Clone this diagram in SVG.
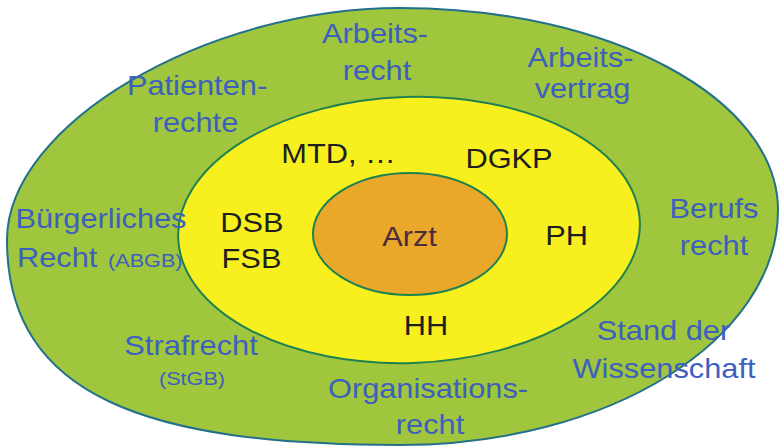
<svg xmlns="http://www.w3.org/2000/svg" width="779" height="447" viewBox="0 0 779 447">
<style>
.ring{stroke-width:2}
.outer{fill:#9fc63c;stroke:#22708a}
.mid{fill:#f7f01e;stroke:#1f8050}
.core{fill:#e9a82a;stroke:#1f8050}
text{font-family:"Liberation Sans",Arial,sans-serif;font-size:27px;text-anchor:middle}
.b{fill:#3d5fbf}
.k{fill:#1e1e1e}
.s{font-size:19px}
.st{text-anchor:start}
.arzt{fill:#4a2c3c}
</style>
<rect width="779" height="447" fill="#ffffff"/>
<g id="outer">
<path class="ring outer" d="M 7 240 C 7 125 205 8 400 8 C 609 8 778 98 778 210 C 778 340 609 445 400 445 C 150 445 7 398 7 240 Z"/>
</g>
<g id="middle">
<ellipse class="ring mid" cx="409" cy="230" rx="231" ry="133" transform="rotate(-2 409 230)"/>
</g>
<g id="core">
<ellipse class="ring core" cx="410" cy="234" rx="97" ry="61"/>
<text class="arzt" transform="matrix(1.14 0 0 1 409.5 246)">Arzt</text>
</g>
<g id="labels-middle">
<text class="k" transform="matrix(1.14 0 0 1 338.5 163)">MTD, …</text>
<text class="k" transform="matrix(1.14 0 0 1 509 168)">DGKP</text>
<text class="k" transform="matrix(1.14 0 0 1 252 232)">DSB</text>
<text class="k" transform="matrix(1.14 0 0 1 251.5 268)">FSB</text>
<text class="k" transform="matrix(1.14 0 0 1 566.5 245)">PH</text>
<text class="k" transform="matrix(1.14 0 0 1 426 335)">HH</text>
</g>
<g id="labels-outer">
<text class="b" transform="matrix(1.14 0 0 1 375 43)">Arbeits-</text>
<text class="b" transform="matrix(1.14 0 0 1 377 80)">recht</text>
<text class="b" transform="matrix(1.14 0 0 1 197 95)">Patienten-</text>
<text class="b" transform="matrix(1.14 0 0 1 195.5 132)">rechte</text>
<text class="b" transform="matrix(1.14 0 0 1 580.5 67)">Arbeits-</text>
<text class="b" transform="matrix(1.14 0 0 1 582.5 98)">vertrag</text>
<text class="b" transform="matrix(1.14 0 0 1 101 228)">Bürgerliches</text>
<text class="b st" transform="matrix(1.14 0 0 1 17 267)">Recht</text>
<text class="b st s" transform="matrix(1.14 0 0 1 108 267)">(ABGB)</text>
<text class="b" transform="matrix(1.14 0 0 1 714 218)">Berufs</text>
<text class="b" transform="matrix(1.14 0 0 1 714 255)">recht</text>
<text class="b" transform="matrix(1.14 0 0 1 191 355)">Strafrecht</text>
<text class="b s" transform="matrix(1.14 0 0 1 192 385)">(StGB)</text>
<text class="b" transform="matrix(1.14 0 0 1 663.5 340)">Stand der</text>
<text class="b" transform="matrix(1.14 0 0 1 664 378)">Wissenschaft</text>
<text class="b" transform="matrix(1.14 0 0 1 428 398)">Organisations-</text>
<text class="b" transform="matrix(1.14 0 0 1 430 434)">recht</text>
</g>
</svg>
